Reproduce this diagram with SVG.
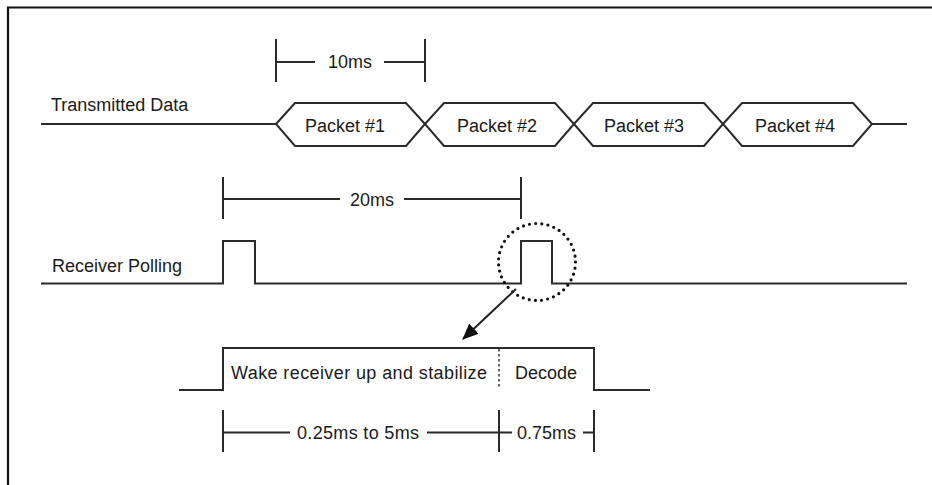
<svg xmlns="http://www.w3.org/2000/svg" width="932" height="485" viewBox="0 0 932 485">
<style>
.ln{fill:none;stroke:#2a2a2a;stroke-width:2;stroke-linejoin:miter}
.tx{font-family:"Liberation Sans",Arial,sans-serif;font-size:18px;fill:#1a1a1a}
.pk{fill:#fff;stroke:#2a2a2a;stroke-width:2;stroke-linejoin:miter}
.dot{fill:none;stroke:#111;stroke-width:3.2;stroke-linecap:round;stroke-dasharray:0 6.2}
</style>
<defs>
<marker id="ah" markerWidth="16" markerHeight="14" refX="15" refY="7" orient="auto" markerUnits="userSpaceOnUse" viewBox="0 0 16 14">
<path d="M0,0 L16,7 L0,14 z" fill="#111"/>
</marker>
</defs>
<rect width="932" height="485" fill="#fff"/>
<path d="M8,485 V7.5 H932" fill="none" stroke="#111" stroke-width="2.2"/>

<g id="transmitted">
<text class="tx" x="51" y="111">Transmitted Data</text>
<path class="ln" d="M41,124 H276 M872,124 H907"/>
</g>
<g id="packet1">
<polygon class="pk" points="276,124 295,103 406,103 425,124 406,146 295,146"/>
<text class="tx" x="345" y="132" text-anchor="middle" font-size="17">Packet #1</text>
</g>
<g id="packet2">
<polygon class="pk" points="425,124 444,103 555,103 574,124 555,146 444,146"/>
<text class="tx" x="497" y="132" text-anchor="middle" font-size="17">Packet #2</text>
</g>
<g id="packet3">
<polygon class="pk" points="574,124 593,103 704,103 723,124 704,146 593,146"/>
<text class="tx" x="644" y="132" text-anchor="middle" font-size="17">Packet #3</text>
</g>
<g id="packet4">
<polygon class="pk" points="723,124 742,103 853,103 872,124 853,146 742,146"/>
<text class="tx" x="795" y="132" text-anchor="middle" font-size="17">Packet #4</text>
</g>

<g id="dim10">
<path class="ln" d="M276,39 V82 M425,39 V82 M276,62 H315 M384,62 H425"/>
<text class="tx" x="350" y="68" text-anchor="middle">10ms</text>
</g>

<g id="dim20">
<path class="ln" d="M223,177 V219 M521,177 V219 M223,199 H340 M404,199 H521"/>
<text class="tx" x="372" y="206" text-anchor="middle">20ms</text>
</g>

<g id="polling">
<text class="tx" x="52" y="272">Receiver Polling</text>
<path class="ln" d="M41,283.5 H223 V241 H255 V283.5 H521 V241 H552 V283.5 H907"/>
</g>

<g id="zoomcircle">
<circle class="dot" cx="537" cy="262" r="38.5"/>
</g>

<g id="connectors">
<line x1="516" y1="289" x2="463" y2="339" stroke="#222" stroke-width="2" marker-end="url(#ah)"/>
</g>

<g id="detail">
<path class="ln" d="M179,390 H223 V348 H594 V390 H650"/>
<line x1="499" y1="349" x2="499" y2="389" stroke="#666" stroke-width="2" stroke-dasharray="2.5 2.5"/>
<text class="tx" x="231" y="379" textLength="256" lengthAdjust="spacing">Wake receiver up and stabilize</text>
<text class="tx" x="515" y="379">Decode</text>
</g>

<g id="dimbottom">
<path class="ln" d="M223,410 V452 M499,410 V452 M594,410 V452 M223,432.5 H290 M427,432.5 H512 M583,432.5 H594"/>
<text class="tx" x="297" y="439" textLength="122" lengthAdjust="spacing">0.25ms to 5ms</text>
<text class="tx" x="517" y="439">0.75ms</text>
</g>
</svg>
